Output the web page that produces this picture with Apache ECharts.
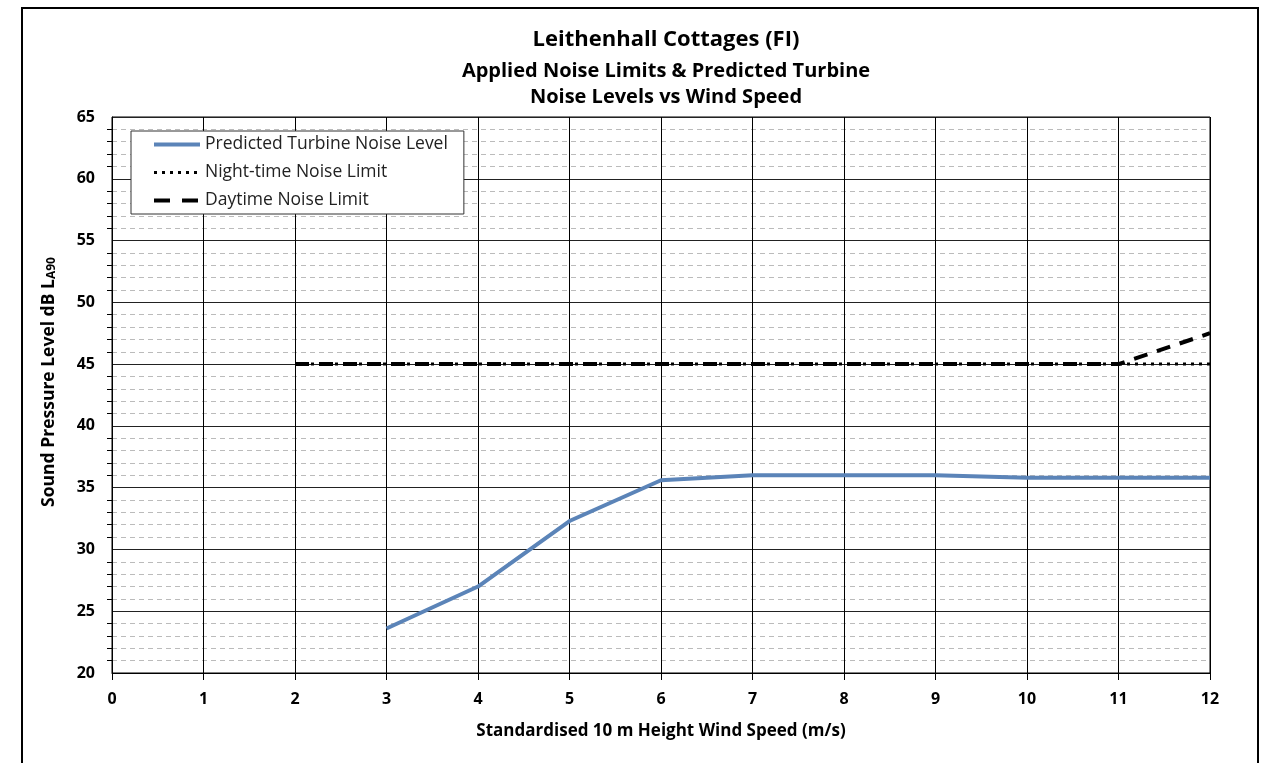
<!DOCTYPE html>
<html><head><meta charset="utf-8">
<script src="https://cdn.jsdelivr.net/npm/echarts@6/dist/echarts.min.js"></script>
<style>html,body{margin:0;padding:0;background:#fff}#c{width:1268px;height:763px}</style>
</head><body><div id="c"></div>
<script>
const windSpeed = [2,3,4,5,6,7,8,9,10,11,12];
const predicted = [null,23.6,27.0,32.3,35.6,36.0,36.0,36.0,35.8,35.8,35.8];
const nightLimit = [45,45,45,45,45,45,45,45,45,45,45];
const dayLimit = [45,45,45,45,45,45,45,45,45,45,47.5];
const xTicks = [0,1,2,3,4,5,6,7,8,9,10,11,12];
const yTicks = [20,25,30,35,40,45,50,55,60,65];
const seriesNames = ['Predicted Turbine Noise Level','Night-time Noise Limit','Daytime Noise Limit'];

const pairs = v => windSpeed.map((x,i)=>[x,v[i]]).filter(p=>p[1]!==null);
const FONT = '"Open Sans", Lato, sans-serif';
const BLUE = '#5B84B8';
const chart = echarts.init(document.getElementById('c'));
chart.setOption({
  animation:false,
  textStyle:{fontFamily:FONT},
  graphic:[{type:'rect',shape:{x:22,y:8,width:1236,height:800},style:{fill:'none',stroke:'#000',lineWidth:2},silent:true}],
  title:{
    text:'Leithenhall Cottages (FI)',
    subtext:'Applied Noise Limits & Predicted Turbine\nNoise Levels vs Wind Speed',
    left:661, top:24, textAlign:'center', itemGap:7,
    textStyle:{fontFamily:FONT,fontSize:22,fontWeight:'bold',color:'#000'},
    subtextStyle:{fontFamily:FONT,fontSize:20,fontWeight:'bold',color:'#000',lineHeight:26}
  },
  legend:{
    left:131, top:131, orient:'vertical',
    backgroundColor:'#fff', borderColor:'#333', borderWidth:1,
    padding:[2,16,2,21], itemGap:5, itemWidth:46, itemHeight:14,
    itemStyle:{opacity:0},
    textStyle:{fontFamily:FONT,fontSize:17.5,color:'#222',lineHeight:23},
    data:[
      {name:seriesNames[0],lineStyle:{color:BLUE,width:4,type:'solid'}},
      {name:seriesNames[1],lineStyle:{color:'#000',width:3,type:[3,5]}},
      {name:seriesNames[2],lineStyle:{color:'#000',width:4,type:[16,12]}}
    ]
  },
  grid:{left:112,right:58,top:117,bottom:90,show:true,borderColor:'#000',borderWidth:1},
  xAxis:{
    type:'value',min:0,max:12,interval:1,
    name:'Standardised 10 m Height Wind Speed (m/s)',nameLocation:'middle',nameGap:50,
    nameTextStyle:{fontFamily:FONT,fontSize:17,fontWeight:'bold',color:'#000'},
    axisLine:{show:true,lineStyle:{color:'#000'}},
    axisTick:{show:true,length:7,lineStyle:{color:'#000'}},
    axisLabel:{fontFamily:FONT,fontSize:16,fontWeight:'bold',color:'#000',margin:18,
      formatter:v=>xTicks.includes(v)?String(v):''},
    splitLine:{show:true,lineStyle:{color:'#000',width:1}}
  },
  yAxis:{
    type:'value',min:20,max:65,interval:5,
    name:'Sound Pressure Level dB L{sub|A90}',nameLocation:'middle',nameGap:54,
    nameTextStyle:{fontFamily:FONT,fontSize:17.5,fontWeight:'bold',color:'#000',padding:[0,0,0,26],
      rich:{sub:{fontFamily:FONT,fontSize:12,fontWeight:'bold',color:'#000',verticalAlign:'bottom',padding:[6,0,0,0]}}},
    axisLine:{show:true,lineStyle:{color:'#000'}},
    axisTick:{show:false},
    minorTick:{show:true,splitNumber:5,length:5,lineStyle:{color:'#000'}},
    axisLabel:{fontFamily:FONT,fontSize:16,fontWeight:'bold',color:'#000',margin:17,
      formatter:v=>yTicks.includes(v)?String(v):''},
    splitLine:{show:true,lineStyle:{color:'#222',width:1}},
    minorSplitLine:{show:true,lineStyle:{color:'#bbb',type:[5,4],width:1}}
  },
  series:[
    {name:seriesNames[0],type:'line',data:pairs(predicted),showSymbol:false,symbol:'none',
      lineStyle:{color:BLUE,width:4},itemStyle:{color:BLUE},z:5},
    {name:seriesNames[1],type:'line',data:pairs(nightLimit),showSymbol:false,symbol:'none',
      lineStyle:{color:'#000',width:3,type:[3,5]},itemStyle:{color:'#000'},z:4},
    {name:seriesNames[2],type:'line',data:pairs(dayLimit),showSymbol:false,symbol:'none',
      lineStyle:{color:'#000',width:4,type:[14,10]},itemStyle:{color:'#000'},z:3}
  ]
});
</script></body></html>
